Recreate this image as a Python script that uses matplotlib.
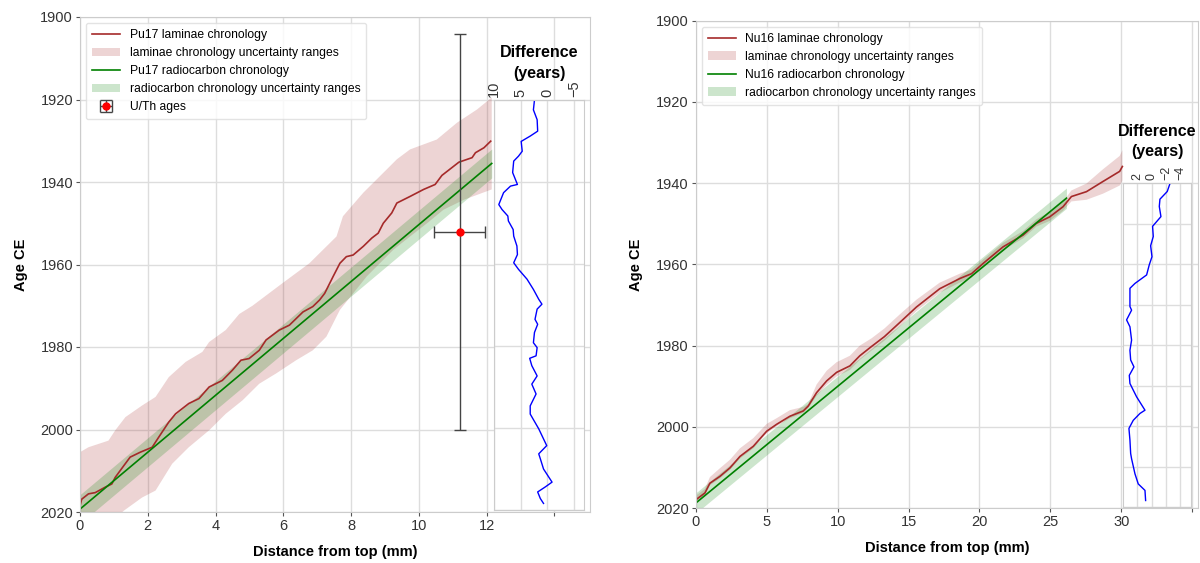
import numpy as np
import matplotlib
matplotlib.use('Agg')
import matplotlib.pyplot as plt

plt.rcParams['font.family'] = ['Liberation Sans', 'DejaVu Sans']
plt.rcParams['axes.edgecolor'] = '#cccccc'
plt.rcParams['grid.color'] = '#dddddd'
plt.rcParams['xtick.color'] = '#333333'
plt.rcParams['ytick.color'] = '#333333'
plt.rcParams['xtick.labelcolor'] = '#333333'
plt.rcParams['ytick.labelcolor'] = '#333333'

# --- Pu17 core ---
pu17_depth = [0.0, 0.05, 0.25, 0.45, 0.74, 0.94, 1.04, 1.29, 1.48, 1.78, 2.13, 2.32,
              2.62, 2.82, 3.21, 3.51, 3.81, 4.20, 4.50, 4.75, 4.99, 5.29, 5.49, 5.88,
              6.18, 6.38, 6.58, 6.87, 7.07, 7.22, 7.47, 7.67, 7.86, 8.06, 8.36, 8.61,
              8.80, 8.95, 9.20, 9.35, 9.74, 10.14, 10.48, 10.68, 11.18, 11.57, 11.67,
              11.92, 12.12]
pu17_age = [2018.5, 2016.9, 2015.6, 2015.3, 2014.0, 2013.2, 2011.6, 2008.8, 2006.7,
            2005.5, 2004.3, 2001.9, 1998.2, 1996.2, 1993.7, 1992.5, 1989.7, 1988.1,
            1985.6, 1983.2, 1982.8, 1980.8, 1978.3, 1975.9, 1974.7, 1973.1, 1971.5,
            1970.2, 1968.6, 1967.0, 1962.9, 1959.7, 1958.1, 1957.7, 1955.6, 1953.6,
            1952.4, 1950.0, 1947.5, 1945.1, 1943.5, 1941.8, 1940.6, 1938.4, 1935.2,
            1934.1, 1932.9, 1931.7, 1930.1]

# laminae uncertainty envelope (young / old edges)
pu17_young_depth = [0.0, 0.25, 0.84, 1.04, 1.34, 1.83, 2.23, 2.62, 3.12, 3.61, 3.81,
                    4.30, 4.70, 5.09, 5.98, 6.77, 7.57, 7.76, 8.36, 8.85, 9.35, 9.74,
                    10.53, 11.13, 11.72, 12.15]
pu17_young_age = [2005.5, 2004.3, 2002.7, 2000.2, 1997.0, 1994.2, 1992.1, 1987.3,
                  1983.6, 1981.2, 1978.8, 1975.9, 1972.0, 1970.0, 1964.5, 1959.7,
                  1953.2, 1948.3, 1942.6, 1938.6, 1934.5, 1932.1, 1929.7, 1925.6,
                  1922.4, 1919.5]
pu17_old_depth = [0.0, 0.6, 1.29, 1.83, 2.23, 2.72, 3.21, 3.81, 4.30, 4.80, 5.29, 5.79,
                  6.38, 6.87, 7.27, 7.67, 8.46, 9.25, 9.74, 10.24, 10.73, 11.33, 12.15]
pu17_old_age = [2030.0, 2025.0, 2019.7, 2016.5, 2014.8, 2008.3, 2004.3, 2000.2, 1996.2,
                1992.9, 1988.9, 1986.4, 1983.2, 1980.8, 1977.5, 1971.0, 1962.9, 1956.4,
                1953.2, 1950.0, 1946.7, 1944.3, 1941.8]

# radiocarbon age model (linear)
pu17_c14_depth = [0.0, 12.15]
pu17_c14_age = [2019.3, 1935.5]
pu17_c14_err = 3.5

# U/Th date
uth_depth = [11.2]
uth_age = [1952.0]
uth_depth_err = [0.75]
uth_age_err = [48.0]

# radiocarbon minus laminae age
pu17_diff_age = [1920.0, 1922.4, 1924.8, 1927.6, 1928.8, 1930.1, 1932.5, 1933.7, 1934.9,
                 1937.7, 1940.6, 1941.0, 1942.6, 1945.5, 1946.7, 1948.3, 1949.5, 1951.6,
                 1953.2, 1955.6, 1957.7, 1959.7, 1961.3, 1963.7, 1966.2, 1968.6, 1969.8,
                 1971.0, 1973.5, 1974.7, 1976.7, 1979.2, 1980.4, 1982.4, 1983.0, 1984.8,
                 1987.3, 1989.3, 1991.7, 1994.6, 1996.6, 2000.2, 2004.3, 2005.1, 2006.3,
                 2007.5, 2010.0, 2013.2, 2014.4, 2015.6, 2017.2, 2018.4]
pu17_diff = [2.4, 2.6, 1.9, 1.8, 3.2, 4.9, 4.7, 5.4, 6.3, 6.5, 5.6, 6.9, 8.2, 9.1, 8.5,
             7.4, 7.3, 6.4, 6.3, 5.7, 5.6, 6.3, 5.4, 3.8, 2.6, 1.6, 1.0, 1.9, 2.3, 1.8,
             2.4, 2.6, 1.9, 2.1, 3.3, 2.9, 1.9, 2.9, 2.1, 3.2, 3.2, 1.6, 0.1, 0.7, 1.6,
             1.3, 0.7, -0.9, 0.4, 1.8, 1.3, 0.7]

# --- Nu16 core ---
nu16_depth = [0.0, 0.65, 1.0, 1.71, 2.42, 3.12, 4.06, 5.0, 5.7, 6.64, 7.58, 7.93, 8.52,
              9.23, 9.93, 10.87, 11.57, 12.4, 13.3, 14.39, 15.56, 17.2, 18.61, 19.44,
              20.25, 21.66, 23.07, 24.01, 24.95, 25.89, 26.48, 27.54, 28.7, 29.88, 30.07]
nu16_age = [2018.0, 2016.3, 2013.9, 2012.2, 2010.1, 2007.3, 2004.8, 2001.1, 1999.4,
            1997.4, 1996.1, 1994.9, 1991.6, 1988.7, 1986.6, 1985.0, 1982.5, 1980.2,
            1977.8, 1974.3, 1970.5, 1966.0, 1963.5, 1962.3, 1959.8, 1955.7, 1952.8,
            1949.9, 1948.3, 1945.8, 1943.3, 1942.1, 1939.6, 1937.1, 1935.9]
# laminae uncertainty (years towards younger / older)
nu16_err_young = [1.0, 1.0, 1.5, 2.0, 2.0, 2.0, 2.0, 1.8, 1.5, 1.5, 1.0, 0.5, 2.0, 2.5,
                  2.5, 2.5, 2.5, 2.0, 2.0, 2.0, 1.8, 1.5, 1.2, 1.0, 1.0, 1.0, 1.0, 1.0,
                  1.2, 1.2, 1.5, 2.0, 3.0, 3.8, 4.0]
nu16_err_old = [0.5, 0.5, 0.5, 0.5, 0.5, 0.5, 0.5, 0.5, 0.5, 0.5, 0.5, 0.5, 0.8, 1.0,
                1.0, 1.0, 1.0, 1.0, 1.0, 1.0, 1.0, 1.0, 1.0, 1.0, 0.8, 0.8, 0.8, 0.8,
                1.0, 1.0, 1.2, 2.0, 3.0, 3.5, 3.5]

nu16_c14_depth = [0.0, 26.13]
nu16_c14_age = [2018.8, 1943.7]
nu16_c14_err = 2.5

nu16_diff_age = [1940.2, 1942.1, 1944.0, 1945.8, 1948.3, 1950.7, 1953.2, 1955.5, 1958.2,
                 1960.2, 1962.7, 1964.8, 1966.0, 1970.5, 1971.4, 1973.8, 1975.5, 1978.8,
                 1981.3, 1983.7, 1985.4, 1987.5, 1989.5, 1992.8, 1996.1, 1996.9, 1998.6,
                 2000.6, 2003.5, 2006.8, 2008.1, 2011.8, 2014.3, 2015.9, 2018.4]
nu16_diff = [-2.55, -2.18, -1.16, -1.07, -1.3, -0.13, -0.23, 0.14, -0.05, 0.33, 0.7,
             2.33, 3.03, 3.03, 2.8, 3.5, 3.03, 2.8, 3.03, 2.93, 2.47, 3.12, 3.03, 2.1,
             0.93, 1.63, 2.57, 3.17, 3.03, 2.93, 2.8, 2.33, 1.87, 0.93, 0.84]

LAM_COLOR = 'brown'
C14_COLOR = 'green'


def draw_core(ax, name, depth, age, env_x, env_y, c14_depth, c14_age, c14_err):
    band_lam = ax.fill(env_x, env_y, color=LAM_COLOR, alpha=0.2, lw=0,
                       label='laminae chronology uncertainty ranges')[0]
    c14_depth = np.asarray(c14_depth)
    c14_age = np.asarray(c14_age)
    band_c14 = ax.fill_between(c14_depth, c14_age - c14_err, c14_age + c14_err,
                               color=C14_COLOR, alpha=0.2, lw=0,
                               label='radiocarbon chronology uncertainty ranges')
    line_lam, = ax.plot(depth, age, color=LAM_COLOR, lw=1.2,
                        label=f'{name} laminae chronology')
    line_c14, = ax.plot(c14_depth, c14_age, color=C14_COLOR, lw=1.2,
                        label=f'{name} radiocarbon chronology')
    return [line_lam, band_lam, line_c14, band_c14]


def style_main(ax, xlim, xticks, xlabels):
    ax.set_xlim(*xlim)
    ax.set_ylim(2020, 1900)
    ax.set_xticks(xticks)
    ax.set_xticklabels(xlabels)
    ax.set_yticks(range(1900, 2021, 20))
    ax.grid(True, lw=1)
    ax.set_axisbelow(True)
    ax.tick_params(labelsize=10.5, length=3, width=0.8, color='#555555', pad=2)
    ax.set_xlabel('Distance from top (mm)', fontweight='bold', fontsize=10.5, labelpad=9)
    ax.set_ylabel('Age CE', fontweight='bold', fontsize=10.5, labelpad=9)


def draw_diff(fig, rect, diff_age, diff, xlim, xticks, ylim, yticks, tick_size, title_pad):
    ins = fig.add_axes(rect)
    ins.plot(diff, diff_age, color='blue', lw=1)
    ins.set_xlim(*xlim)
    ins.set_ylim(*ylim)
    ins.set_xticks(xticks)
    ins.set_yticks(yticks)
    ins.xaxis.tick_top()
    ins.tick_params(axis='x', labelrotation=90, labelsize=tick_size, length=0, pad=2)
    ins.tick_params(axis='y', labelleft=False, length=0)
    ins.grid(True, lw=1)
    ins.set_title('Difference\n(years)', fontweight='bold', fontsize=11.5, pad=title_pad,
                  linespacing=1.45)
    return ins


fig = plt.figure(figsize=(12, 5.63), dpi=100)

# left: Pu17
ax1 = fig.add_axes([80 / 1200, 1 - 512 / 563, 510 / 1200, 495 / 563])
env1_x = pu17_young_depth + pu17_old_depth[::-1]
env1_y = pu17_young_age + pu17_old_age[::-1]
handles1 = draw_core(ax1, 'Pu17', pu17_depth, pu17_age, env1_x, env1_y,
                     pu17_c14_depth, pu17_c14_age, pu17_c14_err)
eb = ax1.errorbar(uth_depth, uth_age, xerr=uth_depth_err, yerr=uth_age_err, fmt='o',
                  color='red', ms=5, ecolor='#444444', elinewidth=1, capsize=4,
                  capthick=1, label='U/Th ages')
style_main(ax1, (0, 15.05), range(0, 15, 2), ['0', '2', '4', '6', '8', '10', '12', ''])
ax1.legend(handles=handles1 + [eb], loc='upper left', fontsize=8.7, labelspacing=0.5,
           framealpha=0.8, edgecolor='#dddddd', borderpad=0.5, handlelength=2.3)

draw_diff(fig, [494 / 1200, 1 - 510 / 563, 90 / 1200, 410 / 563],
          pu17_diff_age, pu17_diff, (10, -6.9), [10, 5, 0, -5], (2020, 1920),
          range(1920, 2021, 20), 10.5, 2)

# right: Nu16
ax2 = fig.add_axes([695.7 / 1200, 1 - 508 / 563, 502.3 / 1200, 487.3 / 563])
nu16_age_a = np.asarray(nu16_age)
env2_x = nu16_depth + nu16_depth[::-1]
env2_y = list(nu16_age_a - np.asarray(nu16_err_young)) + \
    list((nu16_age_a + np.asarray(nu16_err_old))[::-1])
handles2 = draw_core(ax2, 'Nu16', nu16_depth, nu16_age, env2_x, env2_y,
                     nu16_c14_depth, nu16_c14_age, nu16_c14_err)
style_main(ax2, (0, 35.4), range(0, 36, 5), ['0', '5', '10', '15', '20', '25', '30', ''])
ax2.legend(handles=handles2, loc='upper left', fontsize=8.7, labelspacing=0.5,
           framealpha=0.8, edgecolor='#dddddd', borderpad=0.5, handlelength=2.3)

draw_diff(fig, [1123 / 1200, 1 - 507 / 563, 68 / 1200, 324 / 563],
          nu16_diff_age, nu16_diff, (4, -5.5), [2, 0, -2, -4], (2020, 1940),
          range(1940, 2021, 10), 9, 7)

fig.savefig('out.png', dpi=100)
